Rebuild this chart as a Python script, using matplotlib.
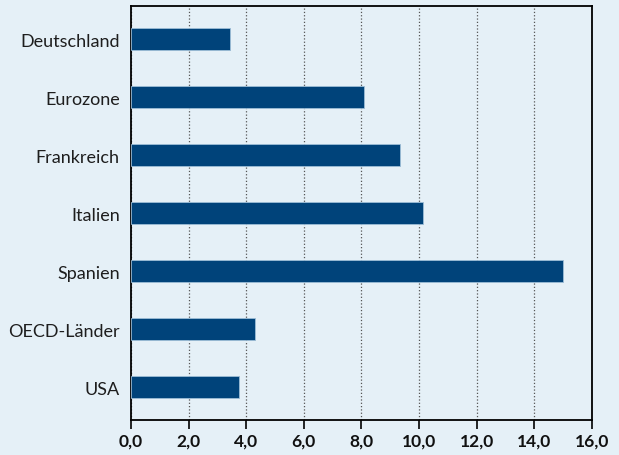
import matplotlib.pyplot as plt

# Daten
laender = ['Deutschland', 'Eurozone', 'Frankreich', 'Italien', 'Spanien', 'OECD-Länder', 'USA']
werte = [3.45, 8.1, 9.35, 10.15, 15.0, 4.3, 3.75]
xticks = [0, 2, 4, 6, 8, 10, 12, 14, 16]
xlabels = ['0,0', '2,0', '4,0', '6,0', '8,0', '10,0', '12,0', '14,0', '16,0']

hintergrund = '#e5f0f7'
balken = '#00437a'

plt.rcParams['font.family'] = ['Lato', 'DejaVu Sans']

fig = plt.figure(figsize=(6.19, 4.56), dpi=100, facecolor=hintergrund)
ax = fig.add_axes([0.2116, 0.0774, 0.7448, 0.9079])
ax.set_facecolor(hintergrund)

pos = list(range(len(laender)))
ax.barh(pos, werte, height=0.37, color=balken, edgecolor='#9dbdd6', linewidth=0.6, zorder=3)

ax.set_xlim(0, 16)
ax.set_ylim(6.56, -0.574)
ax.set_yticks(pos)
ax.set_yticklabels(laender, fontsize=13, color='#1e1e1e')
ax.set_xticks(xticks)
ax.set_xticklabels(xlabels, fontsize=12.5, fontweight='bold', color='#111111')

ax.tick_params(axis='y', length=0, pad=8)
ax.tick_params(axis='x', length=6.5, width=1.2, direction='out', pad=3)

ax.grid(axis='x', linestyle=':', color='#555555', linewidth=0.9, zorder=0)
for s in ax.spines.values():
    s.set_linewidth(1.3)
    s.set_color('black')

fig.savefig('out.png', dpi=100, facecolor=hintergrund)
